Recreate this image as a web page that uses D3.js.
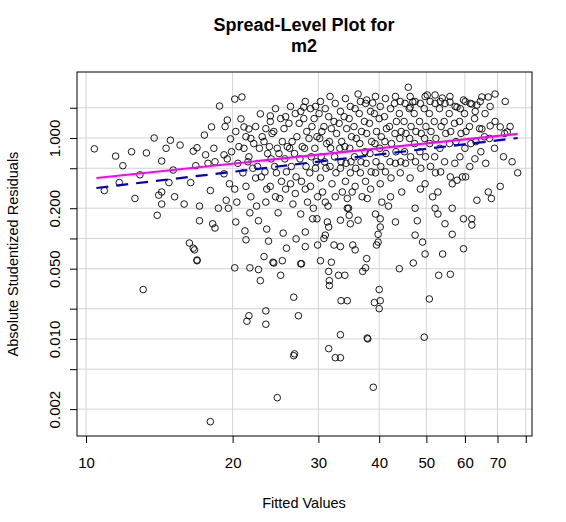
<!DOCTYPE html>
<html><head><meta charset="utf-8">
<script src="https://cdn.jsdelivr.net/npm/d3@7"></script>
<style>body{margin:0;background:#fff}text{font-family:"Liberation Sans",Arial,sans-serif}</style>
</head><body><svg id="c" width="566" height="522"></svg>
<script>
const xTicks=[10,20,30,40,50,60,70,80];
const xLabels=["10","20","30","40","50","60","70",""];
const yTicks=[2,1,0.5,0.2,0.1,0.05,0.02,0.01,0.005,0.002];
const yLabels=["","1.000","","0.200","","0.050","","0.010","","0.002"];
const fitSolid=[[10.5,0.40],[77,1.10]];
const fitDashed=[[10.5,0.318],[77,1.0]];
const fitted=[10.4,10.9,11.5,11.9,11.7,12.4,12.6,12.9,13.3,13.8,14.0,14.1,14.3,14.3,14.3,14.6,14.8,14.9,15.1,15.2,15.6,15.9,16.4,16.3,16.6,16.7,16.9,16.6,16.9,16.8,17.1,17.1,17.5,17.6,17.8,18.1,18.0,18.2,18.4,18.3,18.4,18.7,18.8,19.2,19.5,19.4,19.6,20.2,20.9,20.3,21.1,21.6,21.2,21.3,21.7,22.6,23.2,23.5,23.7,23.9,25.4,25.8,24.3,27.0,27.7,28.0,
13.1,18.0,20.2,21.7,22.6,22.8,25.1,26.7,27.3,23.4,21.6,21.4,23.4,26.7,26.8,24.7,31.5,32.5,33.3,33.3,37.8,37.9,38.9,49.5,33.4,34.4,39.1,40.2,40.0,40.0,50.7,31.5,31.6,31.6,33.0,34.0,37.0,37.5,44.0,47.0,53.0,56.0,27.6,24.2,25.3,16.9,30.3,31.9,
45.9,36.2,37.7,38.8,50.2,52.1,53.9,65,67,69.2,59.6,62,63.5,55.9,57.8,46.9,46.3,70.9,73.3,67.6,65,72,75,77,70.9,68,67,63.5,62,62,59.6,59.3,57.8,56.5,56.5,56.5,54.6,54,59.6,52.1,52.8,51.5,52.8,49.7,49.1,47.4,47.9,47.4,48.6,39.8,39.5,37.7,40.2,39.3,41.8,43.2,36.2,34.4,34.7,34.9,33.3,32.3,33.3,31.3,31.5,31.0,29.8,30.8,29.9,28.2,28.2,29.2,35.3,35.7,40.2,39.8,
19.3,19.5,19.2,19.8,19.9,19.7,20.3,20.5,20.2,20.4,20.8,20.6,21.0,21.3,21.1,21.5,21.3,21.8,21.6,22.0,21.8,22.3,22.1,22.5,22.3,22.4,22.8,23.0,22.7,22.9,23.4,23.2,23.6,23.3,23.5,23.4,23.9,24.1,23.8,24.0,23.9,24.5,24.3,24.7,24.4,24.6,24.5,24.8,25.1,25.3,24.9,25.2,25.0,25.7,25.5,25.9,25.6,25.8,25.7,26.3,26.1,26.5,26.2,26.4,26.3,26.6,26.9,27.1,26.8,27.0,26.9,27.6,27.4,27.8,27.5,27.7,27.6,28.2,28.0,28.4,28.1,28.3,28.2,28.5,28.9,29.1,28.7,29.0,28.8,28.9,29.6,29.4,29.8,29.5,29.7,29.6,29.9,29.3,30.3,30.1,30.5,30.2,30.4,30.3,30.6,31.0,30.8,31.2,30.9,31.1,31.0,31.7,31.5,31.9,31.6,31.8,31.7,32.0,31.4,32.5,32.3,32.7,32.4,32.6,32.5,33.3,33.1,33.5,33.2,33.4,33.3,33.6,34.1,33.9,34.3,34.0,34.2,34.1,34.4,34.9,34.7,35.1,34.8,35.0,34.9,35.2,34.6,35.7,35.5,35.9,35.6,35.8,35.7,36.6,36.4,36.8,36.5,36.7,36.6,36.9,37.5,37.3,37.7,37.4,37.6,37.5,37.8,38.4,38.2,38.6,38.3,38.5,38.4,39.3,39.1,39.5,39.2,39.4,39.3,40.2,40.0,40.4,40.1,40.3,40.2,40.5,41.2,41.0,41.4,41.1,41.3,41.2,42.2,42.0,42.4,42.1,42.3,42.2,43.2,43.0,43.4,43.1,43.3,43.2,44.2,44.0,44.4,44.1,44.3,44.2,44.5,45.2,45.0,45.4,45.1,45.3,46.3,46.1,46.5,46.2,46.4,46.3,47.4,47.2,47.6,47.3,47.5,48.6,48.4,48.8,48.5,48.7,49.7,49.5,49.9,49.6,49.8,49.7,50.9,50.7,51.1,50.8,51.0,52.1,51.9,52.3,52.0,52.2,53.4,53.2,53.6,53.3,53.5,54.6,54.4,54.8,54.5,55.9,55.7,56.1,55.8,56.0,57.3,57.1,57.5,57.2,58.7,58.5,58.9,58.6,60.1,59.9,60.3,60.0,60.2,61.5,61.3,61.7,61.4,63.0,62.8,63.2,62.9,64.5,64.3,64.7,66.0,65.8,66.2,67.6,67.4,69.2,69.0,72.6,72.4,74.3];
const absResid=[0.78,0.30,0.66,0.53,0.36,0.73,0.25,0.43,0.71,1.0,0.17,0.27,0.29,0.59,0.22,0.79,0.36,0.95,0.48,0.26,0.85,0.22,0.36,0.09,0.08,0.077,0.061,0.74,0.80,0.53,0.21,0.15,1.07,0.68,0.56,1.29,0.30,0.14,0.127,0.79,0.58,0.20,2.08,0.68,1.51,0.24,0.20,2.44,2.56,0.146,1.29,1.23,0.119,0.097,0.18,0.15,0.066,0.124,0.094,1.66,0.113,0.08,0.057,0.099,0.056,2.03,
0.031,0.0015,0.051,0.051,0.049,0.038,0.043,0.026,0.017,0.019,0.017,0.015,0.014,0.0068,0.0071,0.0026,0.0080,0.0065,0.0065,0.011,0.0102,0.0100,0.0033,0.0104,0.024,0.024,0.023,0.024,0.020,0.031,0.025,0.047,0.038,0.034,0.043,0.043,0.047,0.051,0.050,0.057,0.043,0.044,0.056,0.058,0.060,0.060,0.060,0.058,
3.2,2.74,2.39,2.23,2.68,2.68,2.5,2.56,2.56,2.74,2.39,2.18,2.13,2.28,2.03,2.28,2.03,1.29,1.15,1.32,1.23,0.65,0.58,0.45,0.33,0.25,0.29,0.24,0.157,0.136,0.157,0.41,0.38,0.35,0.2,0.11,0.14,0.07,0.079,0.2,0.175,0.26,0.29,0.07,0.092,0.108,0.15,0.2,0.31,0.092,0.086,0.063,0.157,0.175,0.21,0.146,0.152,0.2,0.17,0.14,0.152,0.086,0.083,0.146,0.13,0.108,0.157,0.1,0.086,0.116,0.083,0.157,0.086,0.077,0.13,0.11,
1.30,0.62,0.44,0.98,0.73,0.35,1.16,0.56,0.31,0.23,1.55,0.82,0.45,1.03,0.79,0.58,0.33,0.99,0.65,0.50,0.26,1.30,0.88,0.52,0.40,0.21,1.74,1.03,0.79,0.41,1.24,0.92,0.70,0.46,0.31,0.23,1.46,1.11,0.82,0.62,0.33,1.96,1.16,0.79,0.52,0.45,0.26,0.18,1.56,0.92,0.70,0.37,0.25,1.63,1.24,0.82,0.62,0.46,0.31,2.06,1.40,0.92,0.79,0.52,0.35,0.22,1.75,1.03,0.70,0.41,0.28,1.84,1.40,0.82,0.62,0.37,0.175,2.31,1.56,1.16,0.79,0.52,0.31,0.23,1.96,1.30,0.99,0.65,0.45,0.33,2.06,1.56,1.03,0.79,0.58,0.50,0.26,0.20,2.31,1.75,1.16,0.99,0.65,0.40,0.29,1.96,1.30,0.88,0.58,0.50,0.23,2.59,1.63,1.24,0.92,0.79,0.52,0.35,0.21,2.21,1.46,1.11,0.65,0.45,0.26,1.84,1.40,0.92,0.79,0.58,0.50,0.29,2.47,1.63,1.24,0.82,0.56,0.37,0.25,2.06,1.56,1.03,0.79,0.58,0.45,0.29,0.20,1.96,1.30,0.99,0.65,0.50,0.33,2.31,1.75,1.16,0.88,0.58,0.45,0.26,2.21,1.46,1.11,0.73,0.56,0.37,0.25,1.84,1.40,0.92,0.70,0.46,0.31,2.59,1.75,1.16,0.88,0.58,0.45,2.06,1.56,1.03,0.79,0.52,0.35,0.23,2.47,1.63,1.24,0.92,0.70,0.46,1.96,1.30,0.88,0.58,0.40,0.26,2.59,2.21,1.46,1.11,0.73,0.56,2.31,1.75,1.16,0.99,0.58,0.45,0.29,2.21,1.46,1.11,0.73,0.56,2.59,1.96,1.30,0.99,0.65,0.40,2.31,1.75,1.16,0.88,0.58,2.21,1.46,1.11,0.73,0.50,2.59,1.96,1.30,0.99,0.65,0.35,2.31,1.75,1.16,0.88,0.52,2.21,1.46,0.99,0.65,0.45,2.31,1.96,1.30,0.79,0.46,2.21,1.46,1.11,0.58,2.59,1.75,1.16,0.88,0.41,2.06,1.40,0.92,0.56,1.96,1.46,1.11,0.65,2.31,1.75,1.16,0.79,0.41,2.21,1.30,0.88,0.52,1.84,1.56,0.92,0.62,2.31,1.24,0.73,1.75,1.03,0.56,2.06,0.99,1.46,0.79,2.31,1.11,1.30];

const svg=d3.select("#c");
const L=77,R=532,T=72,B=436;
const x=d3.scaleLog().domain([9.58,82.4]).range([L,R]);
const y=d3.scaleLog().domain([0.00108,4.54]).range([B,T]);
svg.append("g").selectAll("line").data(xTicks).join("line")
 .attr("x1",d=>x(d)).attr("x2",d=>x(d)).attr("y1",T).attr("y2",B).attr("stroke","#d3d3d3");
svg.append("g").selectAll("line").data(yTicks).join("line")
 .attr("y1",d=>y(d)).attr("y2",d=>y(d)).attr("x1",L).attr("x2",R).attr("stroke","#d3d3d3");
const pts=fitted.map((f,i)=>[f,absResid[i]]);
svg.append("g").selectAll("circle").data(pts).join("circle")
 .attr("cx",d=>x(d[0])).attr("cy",d=>y(d[1])).attr("r",3.3)
 .attr("fill","none").attr("stroke","#000").attr("stroke-width",0.9);
const line=d3.line().x(d=>x(d[0])).y(d=>y(d[1]));
svg.append("path").attr("d",line(fitDashed)).attr("stroke","#0000CD").attr("stroke-width",2.2).attr("fill","none").attr("stroke-dasharray","12,8");
svg.append("path").attr("d",line(fitSolid)).attr("stroke","#FF00FF").attr("stroke-width",2.2).attr("fill","none");
svg.append("rect").attr("x",L).attr("y",T).attr("width",R-L).attr("height",B-T).attr("fill","none").attr("stroke","#000");
const xa=svg.append("g").attr("transform",`translate(0,${B})`).call(d3.axisBottom(x).tickValues(xTicks).tickFormat((d,i)=>xLabels[i]).tickSize(7).tickPadding(14));
const ya=svg.append("g").attr("transform",`translate(${L},0)`).call(d3.axisLeft(y).tickValues(yTicks).tickFormat((d,i)=>yLabels[i]).tickSize(7).tickPadding(6));
[xa,ya].forEach(a=>{a.select(".domain").remove();a.selectAll("text").attr("font-size",15).attr("fill","#000").attr("font-family","Liberation Sans, Arial");a.selectAll("line").attr("stroke","#000");});
ya.selectAll(".tick text").attr("text-anchor","middle").attr("x",0).attr("dy",0)
 .attr("transform","translate(-17,0) rotate(-90)");
svg.append("text").attr("x",304).attr("y",31).attr("text-anchor","middle").attr("font-size",18).attr("font-weight","bold").text("Spread-Level Plot for");
svg.append("text").attr("x",304).attr("y",52).attr("text-anchor","middle").attr("font-size",18).attr("font-weight","bold").text("m2");
svg.append("text").attr("x",304).attr("y",508).attr("text-anchor","middle").attr("font-size",14.5).text("Fitted Values");
svg.append("text").attr("transform","translate(18,254) rotate(-90)").attr("text-anchor","middle").attr("font-size",14.5).text("Absolute Studentized Residuals");
</script></body></html>
